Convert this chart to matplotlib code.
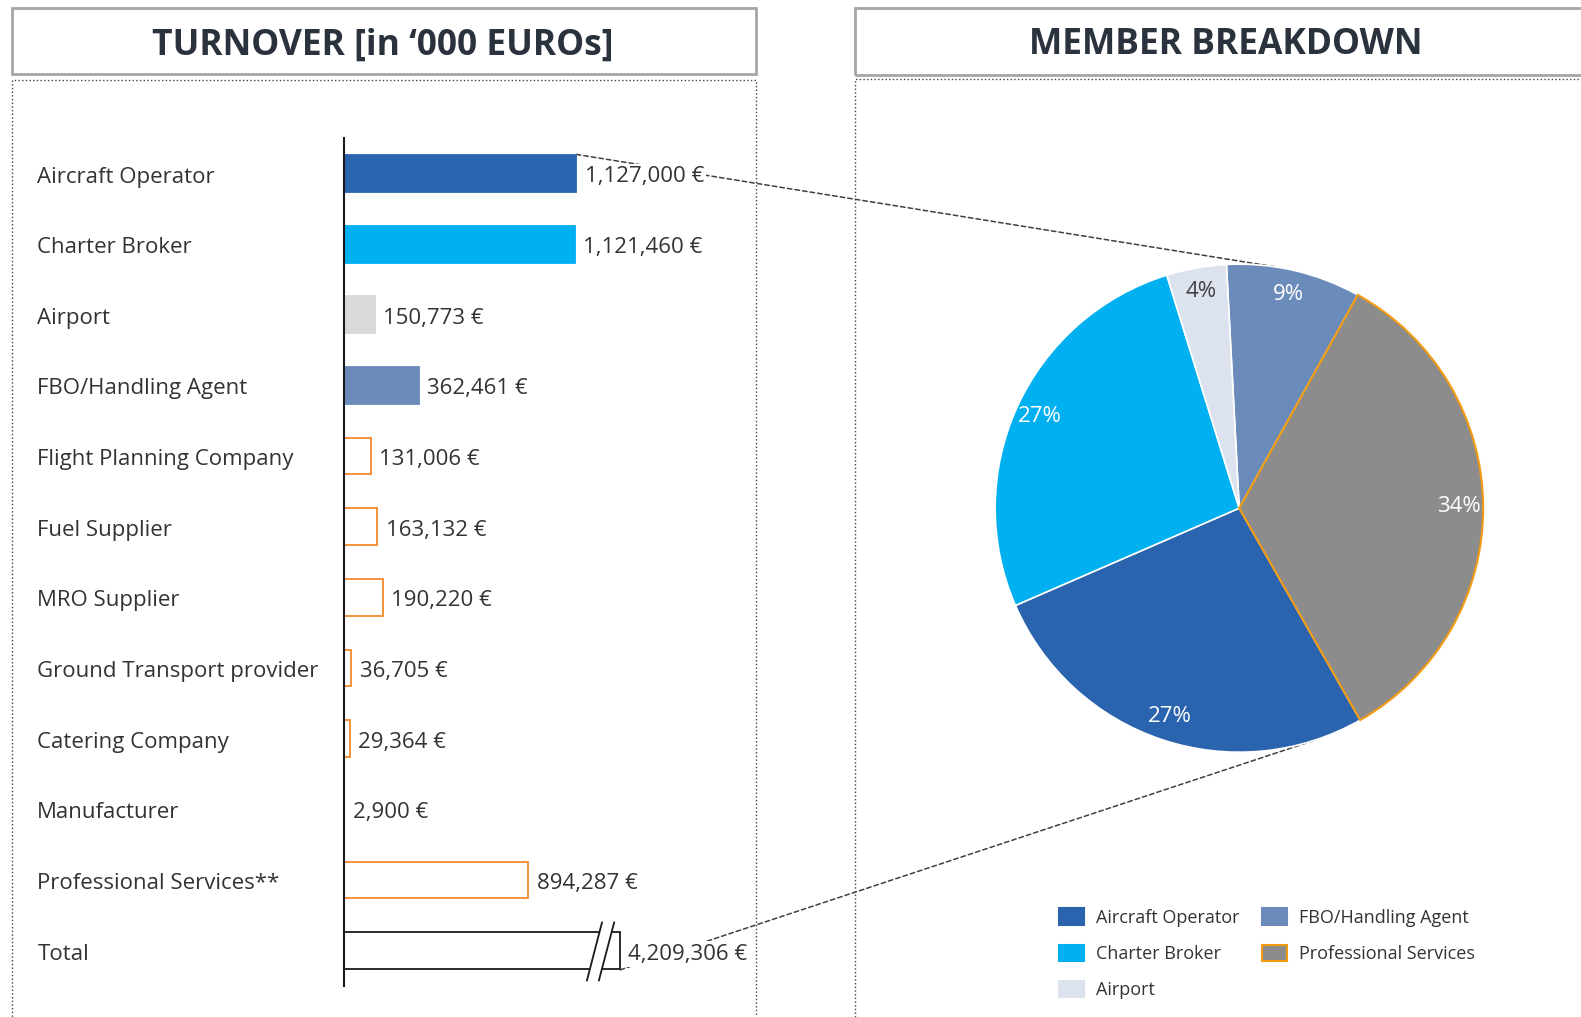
import numpy as np
import matplotlib.pyplot as plt
from matplotlib.patches import Rectangle, Patch, Polygon, ConnectionPatch
from matplotlib import transforms

plt.rcParams['font.family'] = ['Open Sans', 'DejaVu Sans']

# turnover data (in '000 EUR)
categories = ['Aircraft Operator', 'Charter Broker', 'Airport', 'FBO/Handling Agent',
              'Flight Planning Company', 'Fuel Supplier', 'MRO Supplier',
              'Ground Transport provider', 'Catering Company', 'Manufacturer',
              'Professional Services**', 'Total']
turnover = [1127000, 1121460, 150773, 362461, 131006, 163132, 190220,
            36705, 29364, 2900, 894287, 4209306]

# member breakdown (%)
pie_names = ['FBO/Handling Agent', 'Professional Services', 'Aircraft Operator',
             'Charter Broker', 'Airport']
pie_pct = [9, 34, 27, 27, 4]
legend_order = ['Aircraft Operator', 'Charter Broker', 'Airport',
                'FBO/Handling Agent', 'Professional Services']

W, H = 1581, 1017
S = 1581 / 1568  # layout measured on the 1568-wide preview
fig = plt.figure(figsize=(W / 100, H / 100), dpi=100)


def fx(x):
    return x * S / W


def fy(y):
    return 1 - y * S / H


def frect(x0, y0, x1, y1):
    # pixel box (top-left origin) -> figure fraction rect
    return [fx(x0), fy(y1), fx(x1) - fx(x0), fy(y0) - fy(y1)]


def add_box(x0, y0, x1, y1, **kw):
    l, b, w, h = frect(x0, y0, x1, y1)
    fig.add_artist(Rectangle((l, b), w, h, transform=fig.transFigure,
                             fill=False, clip_on=False, **kw))


# panel frames
add_box(12, 8, 750, 73, edgecolor='#a6a6a6', lw=2)
add_box(848, 8, 1600, 74, edgecolor='#a6a6a6', lw=2)
add_box(12, 79, 750, 1040, edgecolor='#404040', lw=1, ls=':')
add_box(848, 78, 1600, 1040, edgecolor='#404040', lw=1, ls=':')
fig.text(fx(380), fy(45), 'TURNOVER [in \u2018000 EUROs]', ha='center', va='center',
         fontsize=25.5, fontweight='bold', color='#2a323d')
fig.text(fx(1216), fy(45), 'MEMBER BREAKDOWN', ha='center', va='center',
         fontsize=25.5, fontweight='bold', color='#2a323d')

# ---- bar chart ----
orange = '#f5892a'
face = ['#2a64ae', '#00b0f0', '#d9d9d9', '#6a8bba'] + ['white'] * 7 + ['white']
edge = ['#2a64ae', '#00b0f0', '#d9d9d9', '#6a8bba'] + [orange] * 7 + ['#1a1a1a']

ax = fig.add_axes(frect(341, 137, 750, 978))
xmax = 2.0e6
total_cap = 1.34e6  # broken bar display length
shown = [min(v, total_cap) for v in turnover]
y = np.arange(len(categories))
ax.barh(y, shown, height=0.52, color=face, edgecolor=edge, linewidth=1.3, zorder=2)
ax.set_xlim(0, xmax)
ax.set_ylim(11.5, -0.5)
for s in ['top', 'right', 'bottom']:
    ax.spines[s].set_visible(False)
ax.spines['left'].set_linewidth(1.5)
ax.spines['left'].set_color('#1a1a1a')
ax.set_xticks([])
ax.set_yticks([])
ax.patch.set_alpha(0)

# axis break on the total bar
yt, yb = 11 - 0.40, 11 + 0.42
s1 = (total_cap - 88000, total_cap - 161000)
s2 = (total_cap - 29000, total_cap - 103000)
ax.add_patch(Polygon([(s1[0], yt), (s2[0], yt), (s2[1], yb), (s1[1], yb)],
                     closed=True, facecolor='white', edgecolor='none', zorder=3))
ax.plot([s1[0], s1[1]], [yt, yb], color='#1a1a1a', lw=1.3, zorder=4)
ax.plot([s2[0], s2[1]], [yt, yb], color='#1a1a1a', lw=1.3, zorder=4)

trans = transforms.blended_transform_factory(fig.transFigure, ax.transData)
for yi, name, v, sv in zip(y, categories, turnover, shown):
    ax.text(fx(37), yi + 0.05, name, transform=trans, ha='left', va='center',
            fontsize=16, color='#333333')
    ax.annotate(f'{v:,} \u20ac', (sv, yi), xytext=(6, -2.4), textcoords='offset points',
                ha='left', va='center', fontsize=16, color='#333333', zorder=6,
                bbox=dict(boxstyle='square,pad=0.1', fc='white', ec='none'))

# ---- pie chart ----
pie_colors = {'FBO/Handling Agent': '#6b8cbb', 'Professional Services': '#8c8c8c',
              'Aircraft Operator': '#2a64ae', 'Charter Broker': '#00b0f0',
              'Airport': '#dce3ee'}
r_ax = 1.1
pax = fig.add_axes(frect(1229 - 242 * r_ax, 504 - 242 * r_ax,
                         1229 + 242 * r_ax, 504 + 242 * r_ax))
wedges, texts, autotexts = pax.pie(pie_pct, colors=[pie_colors[n] for n in pie_names],
                                   startangle=93, counterclock=False,
                                   autopct='%.0f%%', pctdistance=0.9,
                                   wedgeprops=dict(edgecolor='white', linewidth=1.2),
                                   textprops=dict(color='white', fontsize=16))
wedges[1].set_edgecolor('#f39c12')
wedges[1].set_linewidth(1.5)
wedges[1].set_zorder(3)
autotexts[4].set_color('#404040')
pax.set_xlim(-r_ax, r_ax)
pax.set_ylim(-r_ax, r_ax)
pax.set_aspect('equal')
pax.axis('off')

# connector lines from bars to pie
for xy_a, ang in [((1127000, -0.27), 81.0), ((total_cap, 11.27), -71.8)]:
    xy_b = (np.cos(np.radians(ang)), np.sin(np.radians(ang)))
    con = ConnectionPatch(xyA=xy_a, coordsA=ax.transData, xyB=xy_b, coordsB=pax.transData,
                          color='#404040', lw=1.1, ls=(0, (3, 2)), zorder=1)
    con.set_clip_on(False)
    ax.add_artist(con)

# legend
handles = []
for n in legend_order:
    ec = '#f39c12' if n == 'Professional Services' else pie_colors[n]
    handles.append(Patch(facecolor=pie_colors[n], edgecolor=ec, lw=1.5, label=n))
fig.legend(handles=handles, loc='upper left', bbox_to_anchor=(fx(1041), fy(892)),
           ncol=2, frameon=False, fontsize=13, borderpad=0, handlelength=1.4,
           handleheight=1.0, labelspacing=1.0, handletextpad=0.65, columnspacing=1.25,
           labelcolor='#333333')

fig.savefig('out.png', dpi=100, facecolor='white')
